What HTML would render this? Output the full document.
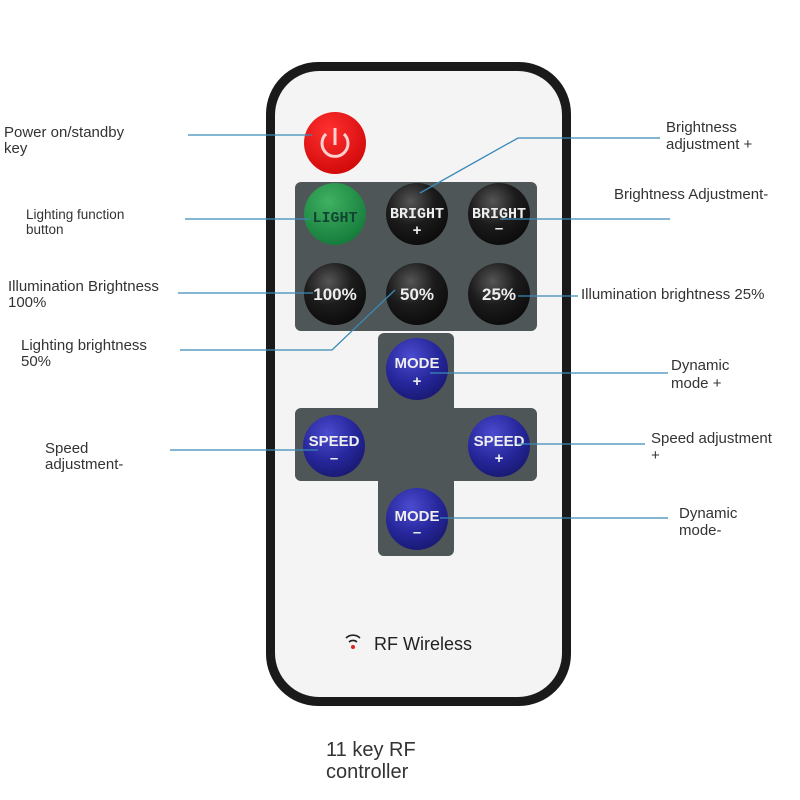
<!DOCTYPE html>
<html><head><meta charset="utf-8"><style>
html,body{margin:0;padding:0;background:#fff;}
svg{display:block;}
text{font-family:"Liberation Sans",sans-serif;}
.l{fill:#333;font-size:15px;}
.s{fill:#333;font-size:13.5px;}
.b{fill:#eee;font-size:15px;font-weight:bold;text-anchor:middle;}
.ln{stroke:#3a8ab8;stroke-width:1.3;fill:none;}
</style></head><body>
<svg width="800" height="800" viewBox="0 0 800 800">
<defs>
<radialGradient id="blk" cx="0.4" cy="0.3" r="0.75"><stop offset="0" stop-color="#555"/><stop offset="0.5" stop-color="#1c1c1c"/><stop offset="1" stop-color="#0a0a0a"/></radialGradient>
<radialGradient id="blu" cx="0.4" cy="0.3" r="0.75"><stop offset="0" stop-color="#4b4bd0"/><stop offset="0.6" stop-color="#26269a"/><stop offset="1" stop-color="#181870"/></radialGradient>
<radialGradient id="grn" cx="0.4" cy="0.3" r="0.75"><stop offset="0" stop-color="#3fb060"/><stop offset="1" stop-color="#137a3a"/></radialGradient>
<radialGradient id="red" cx="0.4" cy="0.3" r="0.75"><stop offset="0" stop-color="#ff3030"/><stop offset="1" stop-color="#d00808"/></radialGradient>
</defs>
<rect x="266" y="62" width="305" height="644" rx="52" fill="#1a1a1a"/>
<rect x="275" y="71" width="287" height="626" rx="44" fill="#f4f4f4"/>
<rect x="295" y="182" width="242" height="149" rx="6" fill="#4f5658"/>
<rect x="378" y="333" width="76" height="223" rx="6" fill="#4f5658"/>
<rect x="295" y="408" width="242" height="73" rx="6" fill="#4f5658"/>
<circle cx="335" cy="143" r="31" fill="url(#red)"/>
<path d="M326 134 A13 13 0 1 0 344 134" stroke="#ffd0d0" stroke-width="3" fill="none"/>
<line x1="335" y1="128" x2="335" y2="145" stroke="#ffd0d0" stroke-width="3"/>
<circle cx="335" cy="214" r="31" fill="url(#grn)"/>
<text x="335" y="222" class="b" style="fill:#143;font-family:'Liberation Mono',monospace;font-size:15px">LIGHT</text>
<circle cx="417" cy="214" r="31" fill="url(#blk)"/>
<text x="417" y="218" class="b" style="font-family:'Liberation Mono',monospace;font-size:15px">BRIGHT</text>
<text x="417" y="235" class="b">+</text>
<circle cx="499" cy="214" r="31" fill="url(#blk)"/>
<text x="499" y="218" class="b" style="font-family:'Liberation Mono',monospace;font-size:15px">BRIGHT</text>
<text x="499" y="233" class="b">–</text>
<circle cx="335" cy="294" r="31" fill="url(#blk)"/>
<text x="335" y="300" class="b" style="font-size:17px">100%</text>
<circle cx="417" cy="294" r="31" fill="url(#blk)"/>
<text x="417" y="300" class="b" style="font-size:17px">50%</text>
<circle cx="499" cy="294" r="31" fill="url(#blk)"/>
<text x="499" y="300" class="b" style="font-size:17px">25%</text>
<circle cx="417" cy="369" r="31" fill="url(#blu)"/>
<text x="417" y="368" class="b">MODE</text><text x="417" y="386" class="b">+</text>
<circle cx="334" cy="446" r="31" fill="url(#blu)"/>
<text x="334" y="446" class="b">SPEED</text><text x="334" y="463" class="b">–</text>
<circle cx="499" cy="446" r="31" fill="url(#blu)"/>
<text x="499" y="446" class="b">SPEED</text><text x="499" y="463" class="b">+</text>
<circle cx="417" cy="519" r="31" fill="url(#blu)"/>
<text x="417" y="521" class="b">MODE</text><text x="417" y="537" class="b">–</text>
<g stroke="#222" stroke-width="1.6" fill="none">
<path d="M346 638 a10 10 0 0 1 14 0"/><path d="M349 642 a6 6 0 0 1 8 0"/></g>
<circle cx="353" cy="647" r="2" fill="#d22"/>
<text x="374" y="650" style="font-size:18px;fill:#222">RF Wireless</text>
<g class="ln">
<line x1="188" y1="135" x2="312" y2="135"/>
<polyline points="420,193 518,138 660,138"/>
<line x1="185" y1="219" x2="310" y2="219"/>
<line x1="500" y1="219" x2="670" y2="219"/>
<line x1="178" y1="293" x2="313" y2="293"/>
<line x1="518" y1="296" x2="578" y2="296"/>
<polyline points="180,350 332,350 395,290"/>
<line x1="430" y1="373" x2="668" y2="373"/>
<line x1="170" y1="450" x2="318" y2="450"/>
<line x1="518" y1="444" x2="645" y2="444"/>
<line x1="440" y1="518" x2="668" y2="518"/>
</g>
<text x="4" y="137" class="l">Power on/standby</text><text x="4" y="153" class="l">key</text>
<text x="26" y="219" class="s">Lighting function</text><text x="26" y="234" class="s">button</text>
<text x="8" y="291" class="l">Illumination Brightness</text><text x="8" y="307" class="l">100%</text>
<text x="21" y="350" class="l">Lighting brightness</text><text x="21" y="366" class="l">50%</text>
<text x="45" y="453" class="l">Speed</text><text x="45" y="469" class="l">adjustment-</text>
<text x="666" y="132" class="l">Brightness</text><text x="666" y="149" class="l">adjustment +</text>
<text x="614" y="199" class="l">Brightness Adjustment-</text>
<text x="581" y="299" class="l">Illumination brightness 25%</text>
<text x="671" y="370" class="l">Dynamic</text><text x="671" y="388" class="l">mode +</text>
<text x="651" y="443" class="l">Speed adjustment</text><text x="651" y="460" class="l">+</text>
<text x="679" y="518" class="l">Dynamic</text><text x="679" y="535" class="l">mode-</text>
<text x="326" y="756" style="font-size:20px;fill:#333">11 key RF</text>
<text x="326" y="778" style="font-size:20px;fill:#333">controller</text>
</svg>
</body></html>
